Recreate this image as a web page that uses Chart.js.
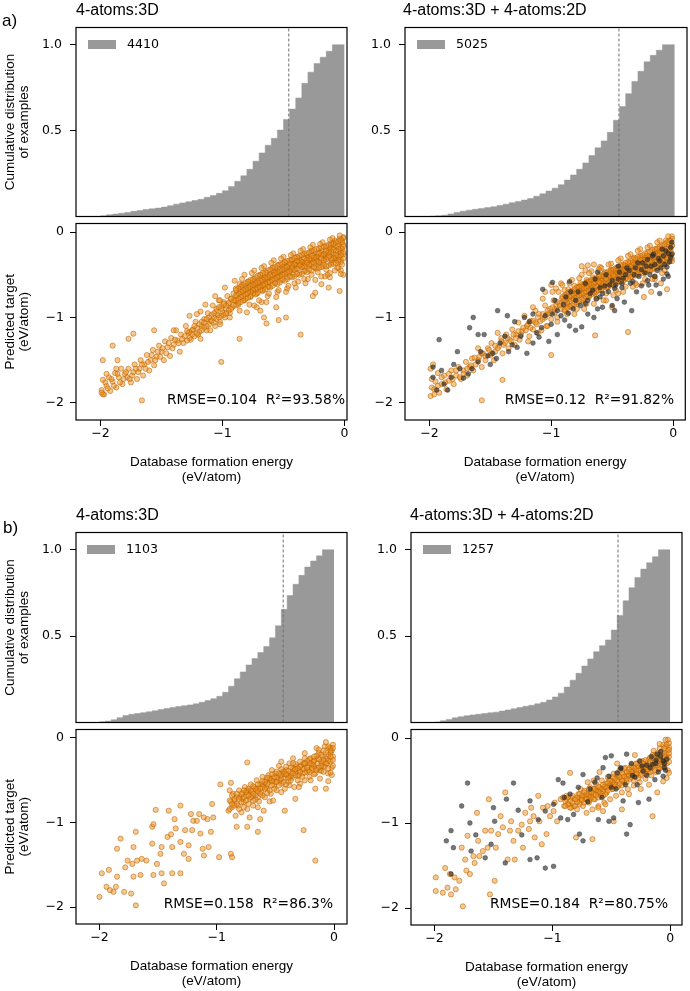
<!DOCTYPE html>
<html>
<head>
<meta charset="utf-8">
<script src="https://cdn.jsdelivr.net/npm/chart.js@4.4.0/dist/chart.umd.min.js"></script>
<style>
  body { margin: 0; background: #fff; width: 690px; height: 991px; position: relative; overflow: hidden; }
  canvas { position: absolute; }
  .t { position: absolute; white-space: pre; color: #000; line-height: 1; }
  .sans { font-family: "Liberation Sans", Arial, sans-serif; }
  .dv { font-family: "DejaVu Sans", sans-serif; }
  .box { position: absolute; background: #999; }
</style>
</head>
<body>
<script>
// ---- data ----
const titles = ['4-atoms:3D', '4-atoms:3D + 4-atoms:2D', '4-atoms:3D', '4-atoms:3D + 4-atoms:2D'];
const counts = [4410, 5025, 1103, 1257];
const rmse = [0.104, 0.12, 0.158, 0.184];
const r2 = [93.58, 91.82, 86.3, 80.75];
const medians = [-0.457, -0.455, -0.434, -0.443];

const histTicks = [0.5, 1.0];
const scatterTicks = [-2, -1, 0];

// left edges of the cumulative histogram bins
const binLeft = [-2.0,-1.95,-1.9,-1.85,-1.8,-1.75,-1.7,-1.65,-1.6,-1.55,-1.5,-1.45,-1.4,-1.35,-1.3,-1.25,-1.2,-1.15,-1.1,-1.05,
  -1.0,-0.95,-0.9,-0.85,-0.8,-0.75,-0.7,-0.65,-0.6,-0.55,-0.5,-0.45,-0.4,-0.35,-0.3,-0.25,-0.2,-0.15,-0.1,-0.05];
const binEnd = 0.0;

const cumA3D = [0.001,0.004,0.01,0.014,0.019,0.024,0.03,0.035,0.041,0.045,0.049,0.055,0.063,0.072,0.079,0.086,0.093,0.1,0.112,0.122,
  0.135,0.15,0.175,0.205,0.237,0.275,0.322,0.37,0.415,0.455,0.503,0.565,0.625,0.69,0.775,0.84,0.89,0.927,0.962,1.0];
const cumA2D = [0,0.002,0.004,0.008,0.015,0.024,0.031,0.037,0.042,0.047,0.052,0.057,0.064,0.072,0.08,0.088,0.096,0.105,0.118,0.132,
  0.148,0.165,0.185,0.212,0.242,0.275,0.312,0.355,0.4,0.44,0.49,0.56,0.64,0.715,0.785,0.845,0.9,0.938,0.968,1.0];
const cumB3D = [0,0.004,0.008,0.016,0.028,0.04,0.048,0.052,0.057,0.062,0.068,0.075,0.081,0.087,0.093,0.097,0.102,0.108,0.117,0.127,
  0.138,0.152,0.175,0.21,0.253,0.293,0.333,0.37,0.405,0.44,0.49,0.56,0.655,0.735,0.8,0.852,0.9,0.935,0.965,1.0];
const cumB2D = [0,0.003,0.01,0.018,0.027,0.034,0.039,0.044,0.048,0.052,0.056,0.06,0.066,0.073,0.08,0.087,0.094,0.1,0.108,0.117,
  0.13,0.148,0.17,0.205,0.245,0.285,0.327,0.368,0.41,0.445,0.478,0.535,0.62,0.705,0.78,0.84,0.888,0.925,0.96,1.0];

// scatter: flat [x, y, x, y, ...] (database energy, predicted)
const predA3D = [
  -0.01,-0.06,-0.02,-0.1,-0.01,-0.15,-0.02,-0.2,-0.01,-0.26,-0.03,-0.32,-0.02,-0.38,-0.04,-0.08,-0.05,-0.14,-0.04,-0.22,
  -0.06,-0.28,-0.05,-0.35,-0.07,-0.18,-0.08,-0.1,-0.09,-0.25,-0.08,-0.31,-0.1,-0.2,-0.11,-0.15,-0.12,-0.28,-0.11,-0.36,
  -0.13,-0.22,-0.14,-0.3,-0.15,-0.18,-0.16,-0.25,-0.17,-0.34,-0.18,-0.4,-0.19,-0.22,-0.2,-0.29,-0.21,-0.36,-0.22,-0.25,
  -0.23,-0.32,-0.24,-0.42,-0.25,-0.28,-0.26,-0.35,-0.27,-0.22,-0.28,-0.31,-0.29,-0.4,-0.3,-0.34,-0.31,-0.27,-0.32,-0.45,
  -0.33,-0.37,-0.34,-0.3,-0.35,-0.41,-0.36,-0.34,-0.37,-0.48,-0.38,-0.38,-0.39,-0.3,-0.4,-0.43,-0.41,-0.36,-0.42,-0.5,
  -0.43,-0.4,-0.44,-0.33,-0.45,-0.46,-0.46,-0.39,-0.47,-0.53,-0.48,-0.44,-0.49,-0.36,-0.5,-0.48,-0.51,-0.41,-0.52,-0.56,
  -0.53,-0.46,-0.54,-0.38,-0.55,-0.52,-0.56,-0.45,-0.57,-0.6,-0.58,-0.5,-0.59,-0.42,-0.6,-0.56,-0.61,-0.49,-0.62,-0.64,
  -0.63,-0.55,-0.64,-0.47,-0.65,-0.6,-0.66,-0.53,-0.67,-0.68,-0.68,-0.58,-0.69,-0.5,-0.7,-0.64,-0.71,-0.57,-0.72,-0.72,
  -0.73,-0.62,-0.74,-0.55,-0.75,-0.68,-0.76,-0.6,-0.77,-0.76,-0.78,-0.66,-0.79,-0.58,-0.8,-0.72,-0.81,-0.64,-0.82,-0.8,
  -0.83,-0.7,-0.84,-0.62,-0.85,-0.76,-0.86,-0.68,-0.87,-0.85,-0.88,-0.74,-0.89,-0.66,-0.9,-0.8,
  -0.02,-0.12,-0.03,-0.24,-0.06,-0.16,-0.07,-0.3,-0.09,-0.13,-0.1,-0.33,-0.12,-0.2,-0.14,-0.25,-0.16,-0.3,-0.18,-0.27,
  -0.2,-0.24,-0.22,-0.35,-0.24,-0.3,-0.26,-0.27,-0.28,-0.38,-0.3,-0.3,-0.32,-0.34,-0.34,-0.4,-0.36,-0.38,-0.38,-0.35,
  -0.4,-0.38,-0.42,-0.44,-0.44,-0.41,-0.46,-0.48,-0.48,-0.4,-0.5,-0.44,-0.52,-0.5,-0.54,-0.47,-0.56,-0.54,-0.58,-0.46,
  -0.6,-0.52,-0.62,-0.58,-0.64,-0.54,-0.66,-0.62,-0.68,-0.54,-0.7,-0.6,-0.72,-0.66,-0.74,-0.62,-0.76,-0.7,-0.78,-0.62,-0.8,-0.68,
  -0.03,-0.45,-0.01,-0.5,-0.05,-0.42,-0.12,-0.48,-0.15,-0.44,-0.19,-0.52,-0.27,-0.5,-0.33,-0.55,-0.41,-0.6,-0.47,-0.66,
  -0.55,-0.7,-0.63,-0.75,-0.68,-0.82,-0.74,-0.86,
  -0.91,-0.72,-0.92,-0.88,-0.93,-0.78,-0.94,-0.95,-0.95,-0.84,-0.96,-0.75,-0.97,-0.9,-0.98,-1.0,-0.99,-0.82,-1.0,-0.94,
  -1.01,-0.87,-1.02,-1.05,-1.03,-0.8,-1.04,-0.97,-1.05,-0.9,-1.06,-1.1,-1.07,-1.0,-1.08,-0.86,-1.1,-1.04,-1.12,-0.95,
  -1.13,-1.15,-1.15,-1.02,-1.17,-1.1,-1.18,-0.93,-1.2,-1.2,-1.22,-1.05,-1.24,-1.14,-1.26,-1.26,-1.27,-0.98,-1.28,-1.18,-1.3,-1.1,
  -1.32,-1.3,-1.34,-1.2,-1.35,-1.4,-1.37,-1.27,-1.38,-1.15,-1.4,-1.32,-1.42,-1.24,-1.43,-1.45,-1.45,-1.35,-1.47,-1.28,
  -1.48,-1.5,-1.5,-1.4,-1.52,-1.33,-1.54,-1.46,-1.56,-1.56,-1.57,-1.38,-1.59,-1.5,-1.6,-1.62,-1.62,-1.44,-1.64,-1.55,
  -1.65,-1.68,-1.67,-1.5,-1.68,-1.6,-1.7,-1.72,-1.72,-1.55,-1.73,-1.64,-1.75,-1.76,-1.77,-1.6,-1.78,-1.7,-1.8,-1.66,
  -1.82,-1.78,-1.83,-1.6,-1.85,-1.7,-1.87,-1.82,-1.88,-1.65,-1.9,-1.75,-1.92,-1.86,-1.93,-1.7,-1.95,-1.8,-1.97,-1.9,
  -1.98,-1.73,-1.99,-1.85,
  -0.36,-1.2,-0.26,-0.75,-0.04,-0.69,-1.01,-1.52,-1.66,-1.97,-0.86,-1.25,-1.77,-1.25,-1.9,-1.33,-1.98,-1.5,-1.98,-1.9,
  -0.48,-1.0,-0.54,-1.03,-0.64,-1.07,-0.66,-1.0,-0.56,-0.88,-0.69,-0.92,-0.03,-0.49,-0.12,-0.53,-0.19,-0.61,-0.24,-0.71,
  -0.13,-0.65,-0.86,-0.61,-1.02,-0.8,-1.21,-0.96,-1.4,-1.15,-1.56,-1.15,-1.73,-1.19,-1.86,-1.5
];
// the dense core of the same cloud
const predA3Dcore = [
  -0.01,-0.07,-0.01,-0.17,-0.01,-0.24,-0.01,-0.31,-0.03,-0.09,-0.03,-0.19,-0.03,-0.27,-0.03,-0.35,
  -0.05,-0.11,-0.05,-0.2,-0.05,-0.29,-0.05,-0.33,-0.07,-0.12,-0.07,-0.22,-0.07,-0.27,-0.07,-0.36,
  -0.09,-0.14,-0.09,-0.21,-0.09,-0.3,-0.09,-0.37,-0.11,-0.13,-0.11,-0.23,-0.11,-0.31,-0.11,-0.38,
  -0.13,-0.15,-0.13,-0.24,-0.13,-0.29,-0.13,-0.39,-0.15,-0.16,-0.15,-0.22,-0.15,-0.32,-0.15,-0.4,
  -0.17,-0.17,-0.17,-0.26,-0.17,-0.33,-0.17,-0.38,-0.19,-0.18,-0.19,-0.27,-0.19,-0.31,-0.19,-0.41,
  -0.21,-0.19,-0.21,-0.25,-0.21,-0.35,-0.21,-0.42,-0.23,-0.2,-0.23,-0.29,-0.23,-0.34,-0.23,-0.43,
  -0.25,-0.21,-0.25,-0.3,-0.25,-0.36,-0.25,-0.41,-0.27,-0.22,-0.27,-0.28,-0.27,-0.37,-0.27,-0.45,
  -0.29,-0.24,-0.29,-0.32,-0.29,-0.38,-0.29,-0.44,-0.31,-0.25,-0.31,-0.33,-0.31,-0.36,-0.31,-0.47,
  -0.33,-0.26,-0.33,-0.31,-0.33,-0.4,-0.33,-0.46,-0.35,-0.27,-0.35,-0.35,-0.35,-0.41,-0.35,-0.49,
  -0.37,-0.28,-0.37,-0.36,-0.37,-0.39,-0.37,-0.5,-0.39,-0.29,-0.39,-0.34,-0.39,-0.43,-0.39,-0.49,
  -0.41,-0.3,-0.41,-0.38,-0.41,-0.44,-0.41,-0.52,-0.43,-0.32,-0.43,-0.39,-0.43,-0.42,-0.43,-0.53,
  -0.45,-0.33,-0.45,-0.37,-0.45,-0.46,-0.45,-0.52,-0.47,-0.34,-0.47,-0.41,-0.47,-0.47,-0.47,-0.55,
  -0.49,-0.35,-0.49,-0.42,-0.49,-0.49,-0.49,-0.57,-0.51,-0.37,-0.51,-0.44,-0.51,-0.5,-0.51,-0.56,
  -0.53,-0.38,-0.53,-0.45,-0.53,-0.52,-0.53,-0.59,-0.55,-0.39,-0.55,-0.47,-0.55,-0.53,-0.55,-0.61,
  -0.57,-0.41,-0.57,-0.48,-0.57,-0.55,-0.57,-0.6,-0.59,-0.42,-0.59,-0.5,-0.59,-0.56,-0.59,-0.63,
  -0.61,-0.44,-0.61,-0.51,-0.61,-0.58,-0.61,-0.65,-0.63,-0.45,-0.63,-0.53,-0.63,-0.59,-0.63,-0.64,
  -0.65,-0.47,-0.65,-0.54,-0.65,-0.61,-0.65,-0.67,-0.67,-0.48,-0.67,-0.56,-0.67,-0.62,-0.67,-0.69,
  -0.69,-0.5,-0.69,-0.57,-0.69,-0.64,-0.69,-0.68,-0.71,-0.51,-0.71,-0.59,-0.71,-0.65,-0.71,-0.71,
  -0.73,-0.53,-0.73,-0.6,-0.73,-0.67,-0.73,-0.73,-0.75,-0.55,-0.75,-0.62,-0.75,-0.68,-0.75,-0.72,
  -0.77,-0.56,-0.77,-0.63,-0.77,-0.7,-0.77,-0.75,-0.79,-0.58,-0.79,-0.65,-0.79,-0.71,-0.79,-0.77,
  -0.81,-0.6,-0.81,-0.67,-0.81,-0.73,-0.81,-0.78,-0.83,-0.62,-0.83,-0.68,-0.83,-0.75,-0.83,-0.8,
  -0.85,-0.64,-0.85,-0.7,-0.85,-0.76,-0.85,-0.82,-0.87,-0.66,-0.87,-0.72,-0.87,-0.78,-0.87,-0.83,
  -0.89,-0.68,-0.89,-0.74,-0.89,-0.8,-0.89,-0.86,
  -0.91,-0.8,-0.91,-0.86,-0.93,-0.78,-0.93,-0.9,-0.95,-0.83,-0.95,-0.92,-0.97,-0.86,-0.97,-0.95,-0.99,-0.84,-0.99,-0.97,
  -1.01,-0.9,-1.01,-0.98,-1.03,-0.88,-1.03,-1.0,-1.05,-0.93,-1.05,-1.02,-1.07,-0.95,-1.07,-1.06,-1.09,-0.97,-1.09,-1.04,
  -1.11,-1.0,-1.11,-1.08,-1.13,-1.02,-1.13,-1.1,-1.15,-1.06,-1.15,-1.12,-1.17,-1.05,-1.17,-1.15,-1.19,-1.08,-1.19,-1.17,
  -1.21,-1.12,-1.21,-1.19,-1.23,-1.1,-1.23,-1.22,-1.25,-1.15,-1.25,-1.2,-1.27,-1.17,-1.27,-1.24,-1.29,-1.16,-1.29,-1.27,
  -1.31,-1.22,-1.33,-1.25,-1.36,-1.3,-1.39,-1.26,-1.41,-1.36,-1.44,-1.3,-1.46,-1.42,-1.49,-1.36,-1.51,-1.46,-1.53,-1.4,
  -1.55,-1.5,-1.58,-1.44,-1.61,-1.52,-1.63,-1.6,-1.66,-1.55,-1.69,-1.64,-1.71,-1.6,-1.74,-1.68,-1.76,-1.72,-1.79,-1.64,
  -1.81,-1.72,-1.84,-1.76,-1.86,-1.66,-1.89,-1.8,-1.91,-1.72,-1.94,-1.83,-1.96,-1.76,-1.99,-1.88,-1.95,-1.66,-1.87,-1.6
];
// the looser edge of the same cloud
const predA3Dhalo = [
  -0.04,-0.04,-0.06,-0.42,-0.1,-0.07,-0.14,-0.5,-0.18,-0.12,-0.22,-0.47,-0.26,-0.15,-0.3,-0.55,-0.34,-0.2,-0.38,-0.58,
  -0.42,-0.25,-0.46,-0.63,-0.5,-0.29,-0.54,-0.68,-0.58,-0.33,-0.62,-0.72,-0.66,-0.4,-0.7,-0.8,-0.74,-0.45,-0.78,-0.85,
  -0.82,-0.5,-0.86,-0.92,-0.9,-0.57,-0.94,-1.0,-0.98,-0.65,-1.02,-1.08,-1.06,-0.75,-1.1,-1.15,-1.14,-0.85,-1.18,-1.25,
  -0.08,-0.45,-0.16,-0.52,-0.24,-0.56,-0.32,-0.6,-0.4,-0.65,-0.48,-0.7,-0.56,-0.76,-0.64,-0.82,-0.72,-0.88,-0.8,-0.94,
  -0.12,-0.09,-0.2,-0.14,-0.28,-0.18,-0.36,-0.22,-0.44,-0.27,-0.52,-0.31,-0.6,-0.36,-0.68,-0.42,-0.76,-0.48,-0.84,-0.55
];

const predA3Dmix = [
  -0.01,-0.05,-0.02,-0.1,-0.01,-0.16,-0.03,-0.22,-0.02,-0.28,-0.01,-0.34,-0.04,-0.12,-0.05,-0.19,-0.06,-0.26,-0.05,-0.32,
  -0.07,-0.15,-0.08,-0.22,-0.09,-0.3,-0.1,-0.37,-0.11,-0.19,-0.12,-0.26,-0.13,-0.33,-0.14,-0.4,-0.15,-0.23,-0.16,-0.3,
  -0.17,-0.37,-0.18,-0.27,-0.19,-0.44,-0.2,-0.33,-0.21,-0.4,-0.22,-0.28,-0.23,-0.36,-0.24,-0.46,-0.25,-0.32,-0.26,-0.4,
  -0.27,-0.3,-0.28,-0.37,-0.29,-0.48,-0.3,-0.41,-0.31,-0.34,-0.32,-0.45,-0.33,-0.38,-0.34,-0.52,-0.35,-0.43,-0.36,-0.36,
  -0.37,-0.48,-0.38,-0.4,-0.39,-0.55,-0.4,-0.46,-0.41,-0.39,-0.42,-0.52,-0.43,-0.44,-0.44,-0.58,-0.45,-0.49,-0.46,-0.42,
  -0.47,-0.55,-0.48,-0.47,-0.49,-0.62,-0.5,-0.52,-0.51,-0.44,-0.52,-0.58,-0.53,-0.5,-0.54,-0.65,-0.55,-0.55,-0.56,-0.47,
  -0.57,-0.6,-0.58,-0.53,-0.59,-0.68,-0.6,-0.58,-0.61,-0.5,-0.62,-0.63,-0.63,-0.56,-0.64,-0.72,-0.65,-0.61,-0.66,-0.53,
  -0.67,-0.67,-0.68,-0.59,-0.69,-0.76,-0.7,-0.64,-0.71,-0.56,-0.72,-0.7,-0.73,-0.62,-0.74,-0.8,-0.75,-0.67,-0.76,-0.6,
  -0.77,-0.74,-0.78,-0.66,-0.79,-0.84,-0.8,-0.71,-0.81,-0.63,-0.82,-0.78,-0.83,-0.7,-0.84,-0.88,-0.85,-0.76,-0.86,-0.67,
  -0.87,-0.83,-0.88,-0.74,-0.89,-0.92,-0.9,-0.8,
  -0.02,-0.2,-0.04,-0.3,-0.06,-0.1,-0.08,-0.34,-0.1,-0.24,-0.12,-0.36,-0.14,-0.2,-0.16,-0.42,-0.18,-0.33,-0.2,-0.28,
  -0.22,-0.45,-0.24,-0.35,-0.26,-0.3,-0.28,-0.44,-0.3,-0.36,-0.32,-0.3,-0.34,-0.4,-0.36,-0.5,-0.38,-0.46,-0.4,-0.4,
  -0.42,-0.47,-0.44,-0.5,-0.46,-0.56,-0.48,-0.5,-0.5,-0.45,-0.52,-0.55,-0.54,-0.6,-0.56,-0.52,-0.58,-0.62,-0.6,-0.55,
  -0.62,-0.68,-0.64,-0.6,-0.66,-0.7,-0.68,-0.64,-0.7,-0.58,-0.72,-0.75,-0.74,-0.66,-0.76,-0.72,-0.78,-0.64,-0.8,-0.77,
  -0.75,-0.4,-0.7,-0.39,-0.65,-0.38,-0.6,-0.41,-0.72,-0.45,-1.0,-0.62,-0.96,-0.66,-0.92,-0.6,-0.89,-0.68,-0.94,-0.7,
  -1.05,-0.7,-0.05,-0.67,-0.24,-0.76,-0.37,-1.17,-0.64,-1.21,-1.0,-1.44,-1.57,-1.97,-1.4,-1.73,-0.1,-0.6,-0.15,-0.55,
  -0.3,-0.62,-0.45,-0.72,-0.55,-0.8,-0.5,-0.88,-0.18,-0.7,
  -0.91,-0.76,-0.92,-0.9,-0.93,-0.84,-0.95,-1.0,-0.96,-0.86,-0.97,-0.94,-0.98,-0.8,-1.0,-1.02,-1.01,-0.9,-1.03,-0.96,
  -1.04,-1.1,-1.05,-0.86,-1.07,-1.02,-1.08,-1.15,-1.1,-0.96,-1.12,-1.08,-1.13,-0.92,-1.15,-1.14,-1.17,-1.04,-1.18,-1.22,
  -1.2,-1.1,-1.22,-0.98,-1.24,-1.16,-1.26,-1.26,-1.27,-1.06,-1.29,-1.2,-1.3,-1.32,
  -1.32,-1.14,-1.34,-1.26,-1.35,-1.36,-1.37,-1.2,-1.38,-1.3,-1.4,-1.42,-1.41,-1.24,-1.43,-1.34,-1.44,-1.18,-1.46,-1.4,
  -1.47,-1.5,-1.49,-1.3,-1.5,-1.44,-1.52,-1.36,-1.54,-1.5,-1.56,-1.42,-1.57,-1.58,-1.59,-1.46,-1.6,-1.36,-1.62,-1.55,
  -1.64,-1.62,-1.65,-1.48,-1.67,-1.58,-1.69,-1.68,-1.7,-1.52,-1.72,-1.62,-1.74,-1.72,-1.76,-1.58,-1.78,-1.68,-1.8,-1.78,
  -1.82,-1.62,-1.84,-1.74,-1.86,-1.84,-1.88,-1.68,-1.9,-1.78,-1.92,-1.88,-1.93,-1.65,-1.95,-1.75,-1.96,-1.9,-1.97,-1.55,
  -1.98,-1.82,-1.99,-1.92,-1.99,-1.6
];
const predA3DmixCore = [
  -0.01,-0.08,-0.01,-0.16,-0.01,-0.25,-0.01,-0.31,-0.03,-0.1,-0.03,-0.19,-0.03,-0.27,-0.03,-0.34,
  -0.05,-0.12,-0.05,-0.2,-0.05,-0.3,-0.05,-0.36,-0.07,-0.14,-0.07,-0.23,-0.07,-0.28,-0.07,-0.38,
  -0.09,-0.16,-0.09,-0.24,-0.09,-0.32,-0.09,-0.37,-0.11,-0.17,-0.11,-0.26,-0.11,-0.33,-0.11,-0.4,
  -0.13,-0.19,-0.13,-0.27,-0.13,-0.31,-0.13,-0.42,-0.15,-0.2,-0.15,-0.25,-0.15,-0.35,-0.15,-0.41,
  -0.17,-0.21,-0.17,-0.29,-0.17,-0.36,-0.17,-0.44,-0.19,-0.23,-0.19,-0.3,-0.19,-0.34,-0.19,-0.45,
  -0.21,-0.24,-0.21,-0.28,-0.21,-0.38,-0.21,-0.44,-0.23,-0.25,-0.23,-0.33,-0.23,-0.39,-0.23,-0.47,
  -0.25,-0.27,-0.25,-0.34,-0.25,-0.37,-0.25,-0.48,-0.27,-0.28,-0.27,-0.32,-0.27,-0.41,-0.27,-0.47,
  -0.29,-0.29,-0.29,-0.37,-0.29,-0.42,-0.29,-0.5,-0.31,-0.31,-0.31,-0.38,-0.31,-0.4,-0.31,-0.51,
  -0.33,-0.32,-0.33,-0.36,-0.33,-0.44,-0.33,-0.5,-0.35,-0.34,-0.35,-0.41,-0.35,-0.45,-0.35,-0.53,
  -0.37,-0.35,-0.37,-0.42,-0.37,-0.43,-0.37,-0.55,-0.39,-0.36,-0.39,-0.4,-0.39,-0.48,-0.39,-0.54,
  -0.41,-0.38,-0.41,-0.45,-0.41,-0.49,-0.41,-0.57,-0.43,-0.39,-0.43,-0.46,-0.43,-0.47,-0.43,-0.58,
  -0.45,-0.41,-0.45,-0.44,-0.45,-0.52,-0.45,-0.57,-0.47,-0.42,-0.47,-0.49,-0.47,-0.53,-0.47,-0.6,
  -0.49,-0.44,-0.49,-0.5,-0.49,-0.51,-0.49,-0.62,-0.51,-0.45,-0.51,-0.48,-0.51,-0.56,-0.51,-0.61,
  -0.53,-0.46,-0.53,-0.53,-0.53,-0.57,-0.53,-0.64,-0.55,-0.48,-0.55,-0.54,-0.55,-0.55,-0.55,-0.65,
  -0.57,-0.49,-0.57,-0.52,-0.57,-0.6,-0.57,-0.64,-0.59,-0.51,-0.59,-0.57,-0.59,-0.61,-0.59,-0.67,
  -0.61,-0.52,-0.61,-0.58,-0.61,-0.59,-0.61,-0.68,-0.63,-0.54,-0.63,-0.56,-0.63,-0.63,-0.63,-0.7,
  -0.65,-0.55,-0.65,-0.6,-0.65,-0.64,-0.65,-0.71,-0.67,-0.56,-0.67,-0.62,-0.67,-0.66,-0.67,-0.73,
  -0.69,-0.58,-0.69,-0.61,-0.69,-0.68,-0.69,-0.74,-0.71,-0.59,-0.71,-0.65,-0.71,-0.69,-0.71,-0.76,
  -0.73,-0.61,-0.73,-0.66,-0.73,-0.71,-0.73,-0.78,-0.75,-0.62,-0.75,-0.64,-0.75,-0.72,-0.75,-0.79,
  -0.77,-0.64,-0.77,-0.69,-0.77,-0.74,-0.77,-0.81,-0.79,-0.65,-0.79,-0.7,-0.79,-0.75,-0.79,-0.82,
  -0.81,-0.67,-0.81,-0.72,-0.81,-0.77,-0.81,-0.84,-0.83,-0.69,-0.83,-0.74,-0.83,-0.79,-0.83,-0.86,
  -0.85,-0.7,-0.85,-0.76,-0.85,-0.81,-0.85,-0.87,-0.87,-0.72,-0.87,-0.78,-0.87,-0.83,-0.87,-0.89,
  -0.89,-0.74,-0.89,-0.8,-0.89,-0.85,-0.89,-0.91,
  -0.91,-0.78,-0.93,-0.86,-0.95,-0.82,-0.97,-0.9,-0.99,-0.88,-1.01,-0.95,-1.03,-0.92,-1.05,-1.0,-1.07,-0.96,-1.09,-1.04,
  -1.11,-1.0,-1.13,-1.06,-1.15,-1.04,-1.17,-1.12,-1.19,-1.08,-1.21,-1.15,-1.23,-1.12,-1.25,-1.2,-1.27,-1.16,-1.29,-1.24,
  -1.31,-1.2,-1.33,-1.28,-1.36,-1.24,-1.39,-1.32,-1.41,-1.28,-1.44,-1.36,-1.46,-1.33,-1.49,-1.42,-1.51,-1.38,-1.54,-1.45,
  -1.57,-1.42,-1.6,-1.5,-1.63,-1.47,-1.66,-1.56,-1.69,-1.6,-1.72,-1.66,-1.75,-1.7,-1.78,-1.62,-1.81,-1.72,-1.84,-1.66,
  -1.87,-1.76,-1.9,-1.7,-1.93,-1.8,-1.96,-1.84,-1.98,-1.72
];
const predA3DmixHalo = [
  -0.04,-0.05,-0.07,-0.45,-0.11,-0.1,-0.15,-0.52,-0.19,-0.16,-0.23,-0.55,-0.27,-0.2,-0.31,-0.6,-0.35,-0.26,-0.39,-0.64,
  -0.43,-0.31,-0.47,-0.68,-0.51,-0.37,-0.55,-0.72,-0.59,-0.42,-0.63,-0.78,-0.67,-0.46,-0.71,-0.84,-0.75,-0.5,-0.79,-0.9,
  -0.83,-0.56,-0.87,-0.96,-0.91,-0.62,-0.95,-1.05,-0.99,-0.7,-1.03,-1.1,-1.07,-0.78,-1.11,-1.18,-1.15,-0.88,-1.19,-1.28,
  -0.09,-0.48,-0.17,-0.55,-0.25,-0.6,-0.33,-0.64,-0.41,-0.7,-0.49,-0.74,-0.57,-0.8,-0.65,-0.84,-0.73,-0.9,-0.81,-0.96,
  -0.13,-0.12,-0.21,-0.18,-0.29,-0.22,-0.37,-0.28,-0.45,-0.33,-0.53,-0.38,-0.61,-0.44,-0.69,-0.48,-0.77,-0.54,-0.85,-0.6
];

const predA2D = [
  -0.99,-0.59,-1.07,-0.67,-1.44,-0.92,-1.64,-1.0,-1.92,-1.26,-1.67,-1.12,-1.36,-0.98,-1.2,-1.42,-1.28,-1.35,-0.99,-0.96,
  -0.89,-1.03,-0.75,-1.11,-0.8,-1.15,-0.58,-0.88,-0.5,-0.86,-0.34,-0.92,-0.11,-0.72,-0.21,-0.57,-0.05,-0.41,-0.05,-0.49,
  -0.26,-0.63,-0.42,-0.65,-1.97,-1.58,-1.72,-1.71,-1.1,-1.23,-1.48,-1.42,-1.15,-0.96,
  -0.02,-0.18,-0.01,-0.26,-0.03,-0.35,-0.06,-0.22,-0.08,-0.28,-0.1,-0.42,-0.12,-0.31,-0.15,-0.38,-0.17,-0.28,-0.19,-0.5,
  -0.22,-0.4,-0.25,-0.36,-0.28,-0.52,-0.31,-0.42,-0.33,-0.58,-0.36,-0.45,-0.39,-0.5,-0.42,-0.6,-0.45,-0.55,-0.48,-0.66,
  -0.52,-0.62,-0.55,-0.5,-0.58,-0.72,-0.6,-0.65,-0.63,-0.78,-0.66,-0.68,-0.7,-0.8,-0.72,-0.6,-0.76,-0.86,-0.8,-0.8,
  -0.84,-0.7,-0.86,-0.95,-0.9,-0.85,-0.95,-0.92,-1.0,-1.08,-1.05,-0.98,-1.12,-1.18,-1.18,-1.05,-1.25,-1.22,-1.32,-1.32,
  -1.38,-1.22,-1.45,-1.48,-1.52,-1.45,-1.6,-1.52,-1.68,-1.66,-1.75,-1.6,-1.82,-1.7,-1.88,-1.78,-1.94,-1.85,-1.97,-1.7,
  -0.04,-0.52,-0.14,-0.62,-0.3,-0.7,-0.46,-0.78,-0.62,-0.9,-0.7,-0.96,-0.65,-1.0,-0.85,-1.1,-0.95,-1.2,-1.02,-1.28,
  -1.3,-1.05,-1.55,-1.2,-0.85,-0.58,-0.62,-0.47,-0.45,-0.4,
  -0.01,-0.12,-0.02,-0.3,-0.04,-0.25,-0.07,-0.38,-0.09,-0.2,-0.11,-0.34,-0.13,-0.45,-0.16,-0.26,-0.18,-0.4,-0.21,-0.32,
  -0.23,-0.48,-0.26,-0.44,-0.29,-0.36,-0.32,-0.5,-0.35,-0.6,-0.38,-0.42,-0.41,-0.54,-0.44,-0.47,-0.47,-0.62,-0.5,-0.57,
  -0.53,-0.7,-0.56,-0.63,-0.6,-0.76,-0.64,-0.55,-0.68,-0.72,-0.72,-0.84,-0.78,-0.7,-0.82,-0.9,-0.88,-0.76,-0.92,-0.98,
  -0.97,-0.8,-1.08,-1.12,-1.15,-1.3,-1.22,-1.0,-1.35,-1.4,-1.42,-1.3,-1.5,-1.55,-1.58,-1.4,-1.65,-1.6,-1.8,-1.55,
  -1.85,-1.85,-1.9,-1.62,-1.77,-1.4,-1.6,-1.2,-0.48,-0.92,-0.4,-0.82,-0.2,-0.62,-0.15,-0.52,-0.08,-0.55
];

const predB3D = [
  -0.01,-0.08,-0.02,-0.15,-0.01,-0.22,-0.03,-0.28,-0.02,-0.35,-0.04,-0.12,-0.05,-0.2,-0.06,-0.3,-0.07,-0.25,-0.08,-0.1,
  -0.09,-0.33,-0.1,-0.22,-0.11,-0.28,-0.12,-0.38,-0.13,-0.18,-0.14,-0.3,-0.15,-0.25,-0.16,-0.42,-0.17,-0.34,-0.18,-0.28,
  -0.19,-0.38,-0.2,-0.24,-0.21,-0.46,-0.22,-0.33,-0.23,-0.4,-0.24,-0.3,-0.25,-0.5,-0.26,-0.36,-0.27,-0.42,-0.28,-0.32,
  -0.29,-0.54,-0.3,-0.38,-0.31,-0.45,-0.32,-0.34,-0.33,-0.4,-0.34,-0.58,-0.35,-0.36,-0.36,-0.47,-0.37,-0.42,-0.38,-0.3,
  -0.39,-0.52,-0.4,-0.44,-0.41,-0.38,-0.42,-0.6,-0.43,-0.48,-0.44,-0.4,-0.45,-0.54,-0.46,-0.45,-0.47,-0.33,-0.48,-0.5,
  -0.49,-0.62,-0.5,-0.42,-0.51,-0.56,-0.52,-0.47,-0.53,-0.38,-0.54,-0.66,-0.55,-0.52,-0.56,-0.44,-0.57,-0.6,-0.58,-0.5,
  -0.59,-0.7,-0.6,-0.56,-0.61,-0.46,-0.62,-0.64,-0.63,-0.55,-0.64,-0.75,-0.65,-0.6,-0.66,-0.5,-0.67,-0.68,-0.68,-0.58,
  -0.69,-0.8,-0.7,-0.64,-0.71,-0.55,-0.72,-0.72,-0.73,-0.62,-0.74,-0.84,-0.75,-0.68,-0.76,-0.58,-0.77,-0.76,-0.78,-0.65,
  -0.79,-0.88,-0.8,-0.7,-0.81,-0.62,-0.82,-0.8,-0.83,-0.7,-0.84,-0.92,-0.85,-0.74,-0.86,-0.66,-0.87,-0.82,-0.88,-0.75,
  -0.89,-0.62,-0.9,-0.86,
  -0.03,-0.18,-0.06,-0.24,-0.1,-0.3,-0.14,-0.36,-0.18,-0.32,-0.22,-0.38,-0.26,-0.3,-0.3,-0.44,-0.34,-0.38,-0.38,-0.46,
  -0.42,-0.42,-0.46,-0.5,-0.5,-0.52,-0.54,-0.5,-0.58,-0.58,-0.62,-0.54,-0.66,-0.62,-0.7,-0.68,-0.74,-0.62,-0.78,-0.72,
  -0.05,-0.42,-0.02,-0.44,-0.2,-0.5,-0.12,-0.48,-0.45,-0.64,-0.55,-0.75,-0.65,-0.82,-0.38,-0.56,-0.3,-0.58,-0.08,-0.34,
  -0.15,-0.12,-0.25,-0.18,-0.35,-0.24,-0.45,-0.28,-0.03,-0.12,-0.07,-0.05,
  -2.0,-1.88,-1.98,-1.6,-1.94,-1.76,-1.92,-1.56,-1.91,-1.8,-1.88,-1.82,-1.86,-1.76,-1.85,-1.64,-1.85,-1.31,-1.82,-1.19,
  -1.79,-1.82,-1.78,-1.53,-1.76,-1.45,-1.73,-1.84,-1.72,-1.49,-1.71,-1.29,-1.71,-1.64,-1.69,-1.11,-1.69,-1.98,-1.68,-1.45,
  -1.65,-1.62,-1.64,-1.43,-1.6,-1.45,-1.55,-1.25,-1.55,-1.05,-1.54,-1.02,-1.54,-1.62,-1.52,-0.85,-1.51,-1.49,-1.48,-1.37,
  -1.47,-1.29,-1.47,-1.6,-1.45,-1.72,-1.42,-1.17,-1.41,-0.86,-1.39,-1.14,-1.38,-1.29,-1.38,-1.6,-1.36,-0.96,-1.35,-1.07,
  -1.31,-0.8,-1.31,-1.23,-1.31,-1.6,-1.28,-1.37,-1.27,-1.09,-1.24,-1.27,-1.24,-1.43,-1.22,-0.9,-1.21,-1.09,-1.2,-0.98,
  -1.17,-0.98,-1.15,-0.9,-1.14,-1.13,-1.12,-1.31,-1.11,-0.94,-1.11,-1.39,-1.08,-0.96,-1.07,-1.29,-1.05,-1.11,-1.04,-0.78,
  -1.03,-0.94,-0.98,-1.41,-0.97,-0.55,-0.88,-0.53,-0.88,-1.37,-0.87,-1.41,-0.83,-1.05,-0.74,-1.05,-0.72,-0.94,-0.65,-1.11,
  -0.63,-0.96,-0.74,-0.29,-0.6,-0.86,-0.52,-0.74,-0.42,-0.86,-0.33,-0.72,-0.26,-1.09,-0.16,-1.45,-0.16,-0.6,-0.07,-0.6,
  -0.03,-0.41,-0.11,-0.39,-0.05,-0.51
];
const predB3Dcore = [
  -0.01,-0.12,-0.01,-0.26,-0.01,-0.33,-0.03,-0.15,-0.03,-0.22,-0.05,-0.1,-0.05,-0.27,-0.05,-0.36,-0.07,-0.17,-0.07,-0.3,
  -0.09,-0.15,-0.09,-0.26,-0.09,-0.4,-0.11,-0.2,-0.11,-0.33,-0.13,-0.25,-0.13,-0.35,-0.13,-0.14,-0.15,-0.21,-0.15,-0.38,
  -0.17,-0.27,-0.17,-0.22,-0.17,-0.43,-0.19,-0.31,-0.19,-0.36,-0.21,-0.25,-0.21,-0.4,-0.21,-0.3,-0.23,-0.35,-0.23,-0.27,
  -0.25,-0.3,-0.25,-0.41,-0.25,-0.24,-0.27,-0.37,-0.27,-0.46,-0.29,-0.28,-0.29,-0.4,-0.29,-0.34,-0.31,-0.36,-0.31,-0.5,
  -0.33,-0.31,-0.33,-0.44,-0.33,-0.37,-0.35,-0.42,-0.35,-0.3,-0.37,-0.35,-0.37,-0.5,-0.37,-0.45,-0.39,-0.39,-0.39,-0.47,
  -0.41,-0.43,-0.41,-0.34,-0.41,-0.55,-0.43,-0.4,-0.43,-0.52,-0.45,-0.44,-0.45,-0.48,-0.45,-0.37,-0.47,-0.42,-0.47,-0.56,
  -0.49,-0.47,-0.49,-0.52,-0.49,-0.4,-0.51,-0.46,-0.51,-0.6,-0.53,-0.51,-0.53,-0.56,-0.53,-0.43,-0.55,-0.48,-0.55,-0.62,
  -0.57,-0.54,-0.57,-0.47,-0.57,-0.65,-0.59,-0.52,-0.59,-0.6,-0.61,-0.58,-0.61,-0.51,-0.61,-0.68,-0.63,-0.6,-0.63,-0.66,
  -0.65,-0.55,-0.65,-0.7,-0.65,-0.63,-0.67,-0.6,-0.67,-0.73,-0.69,-0.66,-0.69,-0.57,-0.69,-0.74,-0.71,-0.62,-0.71,-0.7,
  -0.73,-0.68,-0.73,-0.6,-0.73,-0.78,-0.75,-0.64,-0.75,-0.74,-0.77,-0.7,-0.77,-0.62,-0.77,-0.82,-0.79,-0.66,-0.79,-0.76,
  -0.81,-0.72,-0.81,-0.84,-0.83,-0.66,-0.83,-0.78,-0.85,-0.72,-0.85,-0.8,-0.87,-0.68,-0.87,-0.78,-0.89,-0.74,-0.89,-0.84
];

const predB3Dmix = [
  -0.01,-0.06,-0.02,-0.14,-0.01,-0.22,-0.03,-0.3,-0.02,-0.38,-0.04,-0.1,-0.05,-0.18,-0.06,-0.27,-0.07,-0.34,-0.08,-0.2,
  -0.09,-0.12,-0.1,-0.3,-0.11,-0.24,-0.12,-0.4,-0.13,-0.2,-0.14,-0.32,-0.15,-0.27,-0.16,-0.44,-0.17,-0.36,-0.18,-0.25,
  -0.19,-0.4,-0.2,-0.3,-0.21,-0.48,-0.22,-0.35,-0.23,-0.27,-0.24,-0.42,-0.25,-0.33,-0.26,-0.52,-0.27,-0.38,-0.28,-0.3,
  -0.29,-0.45,-0.3,-0.36,-0.31,-0.56,-0.32,-0.42,-0.33,-0.32,-0.34,-0.48,-0.35,-0.4,-0.36,-0.6,-0.37,-0.45,-0.38,-0.35,
  -0.39,-0.52,-0.4,-0.42,-0.41,-0.64,-0.42,-0.48,-0.43,-0.38,-0.44,-0.56,-0.45,-0.45,-0.46,-0.68,-0.47,-0.52,-0.48,-0.42,
  -0.49,-0.6,-0.5,-0.5,-0.51,-0.72,-0.52,-0.56,-0.53,-0.46,-0.54,-0.64,-0.55,-0.54,-0.56,-0.76,-0.57,-0.6,-0.58,-0.5,
  -0.59,-0.68,-0.6,-0.58,-0.61,-0.8,-0.62,-0.64,-0.63,-0.54,-0.64,-0.72,-0.65,-0.62,-0.66,-0.84,-0.67,-0.68,-0.68,-0.58,
  -0.69,-0.76,-0.7,-0.66,-0.71,-0.88,-0.72,-0.72,-0.73,-0.62,-0.74,-0.8,-0.75,-0.7,-0.76,-0.6,-0.77,-0.76,-0.78,-0.66,
  -0.79,-0.84,-0.8,-0.72,-0.82,-0.8,-0.84,-0.7,-0.86,-0.78,-0.88,-0.68,-0.9,-0.8,
  -0.03,-0.2,-0.05,-0.3,-0.08,-0.26,-0.1,-0.36,-0.13,-0.28,-0.16,-0.35,-0.2,-0.38,-0.24,-0.34,-0.28,-0.42,-0.32,-0.38,
  -0.36,-0.44,-0.4,-0.5,-0.44,-0.46,-0.48,-0.55,-0.52,-0.5,-0.56,-0.58,-0.6,-0.64,-0.64,-0.6,-0.68,-0.66,-0.72,-0.68,
  -0.76,-0.72,-0.02,-0.02,-0.06,-0.08,-0.14,-0.15,-0.3,-0.2,-0.45,-0.3,-0.6,-0.4,-0.18,-0.55,-0.25,-0.6,-0.35,-0.66,
  -0.55,-0.78,-0.65,-0.5,-0.7,-0.52,
  -1.99,-1.64,-1.99,-1.8,-1.93,-1.82,-1.91,-1.53,-1.89,-1.76,-1.87,-1.6,-1.86,-1.84,-1.83,-1.64,-1.82,-1.78,-1.79,-1.68,
  -1.77,-1.29,-1.76,-1.98,-1.74,-1.43,-1.73,-1.56,-1.72,-1.15,-1.7,-1.6,-1.67,-1.39,-1.66,-1.47,-1.64,-0.88,-1.63,-1.21,
  -1.62,-1.39,-1.59,-1.33,-1.57,-1.09,-1.55,-1.29,-1.54,-0.72,-1.53,-1.84,-1.52,-1.09,-1.49,-1.68,-1.48,-1.29,-1.46,-1.13,
  -1.44,-0.92,-1.42,-1.05,-1.4,-0.64,-1.38,-1.43,-1.36,-1.09,-1.35,-0.98,-1.33,-1.21,-1.32,-1.43,-1.29,-1.09,-1.26,-1.02,
  -1.25,-1.29,-1.23,-0.88,-1.2,-1.07,-1.19,-0.98,-1.18,-0.82,-1.16,-0.92,-1.15,-1.17,-1.12,-0.68,-1.11,-0.98,-1.09,-1.25,
  -1.08,-0.82,-1.05,-1.13,-1.04,-0.8,-1.02,-0.92,-0.99,-0.86,-0.98,-0.76,-0.96,-0.98,-0.93,-0.72,-0.91,-0.7,-0.88,-0.72,
  -0.85,-0.41,-0.84,-0.82,-0.8,-1.17,-0.66,-1.19,-0.61,-0.82,-0.57,-0.86,-0.48,-0.98,-0.41,-0.84,-0.15,-0.92,-0.11,-0.64,
  -0.06,-0.51,-0.03,-0.47,-0.01,-0.41,-0.09,-0.07,-0.04,-0.02,-0.01,-0.11
];
const predB3DmixCore = [
  -0.01,-0.14,-0.01,-0.28,-0.01,-0.18,-0.03,-0.08,-0.03,-0.24,-0.05,-0.12,-0.05,-0.34,-0.05,-0.22,-0.07,-0.16,-0.07,-0.28,
  -0.09,-0.2,-0.09,-0.36,-0.09,-0.25,-0.11,-0.18,-0.11,-0.32,-0.13,-0.24,-0.13,-0.38,-0.13,-0.29,-0.15,-0.2,-0.15,-0.34,
  -0.17,-0.28,-0.17,-0.4,-0.17,-0.23,-0.19,-0.32,-0.19,-0.37,-0.21,-0.26,-0.21,-0.42,-0.21,-0.34,-0.23,-0.3,-0.23,-0.38,
  -0.25,-0.36,-0.25,-0.44,-0.25,-0.28,-0.27,-0.33,-0.27,-0.47,-0.29,-0.38,-0.29,-0.42,-0.29,-0.3,-0.31,-0.35,-0.31,-0.5,
  -0.33,-0.4,-0.33,-0.46,-0.33,-0.34,-0.35,-0.44,-0.35,-0.37,-0.37,-0.4,-0.37,-0.52,-0.37,-0.48,-0.39,-0.45,-0.39,-0.36,
  -0.41,-0.5,-0.41,-0.41,-0.41,-0.56,-0.43,-0.46,-0.43,-0.54,-0.45,-0.5,-0.45,-0.42,-0.45,-0.58,-0.47,-0.55,-0.47,-0.48,
  -0.49,-0.52,-0.49,-0.6,-0.49,-0.46,-0.51,-0.56,-0.51,-0.5,-0.53,-0.53,-0.53,-0.62,-0.53,-0.58,-0.55,-0.57,-0.55,-0.66,
  -0.57,-0.55,-0.57,-0.63,-0.57,-0.68,-0.59,-0.6,-0.59,-0.65,-0.61,-0.57,-0.61,-0.7,-0.61,-0.63,-0.63,-0.62,-0.63,-0.67,
  -0.65,-0.6,-0.65,-0.72,-0.65,-0.66,-0.67,-0.64,-0.67,-0.7,-0.69,-0.6,-0.69,-0.74,-0.69,-0.68,-0.71,-0.66,-0.71,-0.72,
  -0.73,-0.64,-0.73,-0.76,-0.75,-0.68,-0.75,-0.73,-0.77,-0.66,-0.77,-0.78,-0.79,-0.7,-0.79,-0.75,-0.81,-0.72,-0.81,-0.8,
  -0.83,-0.68,-0.83,-0.76,-0.85,-0.74,-0.85,-0.82,-0.87,-0.7,-0.87,-0.78,-0.89,-0.74,-0.89,-0.8
];

const predB2D = [
  -1.72,-0.53,-1.33,-0.53,-1.77,-0.8,-1.39,-0.72,-1.5,-0.82,-1.29,-0.85,-1.19,-0.74,-1.12,-0.96,-1.7,-1.0,-1.49,-0.98,
  -1.65,-1.14,-1.86,-1.09,-1.9,-1.21,-1.84,-1.29,-1.69,-1.33,-1.57,-1.41,-1.52,-1.25,-1.4,-1.47,-1.26,-1.14,-1.19,-1.43,
  -1.13,-1.41,-1.06,-1.53,-0.99,-1.51,-1.86,-1.6,-1.06,-0.86,-0.99,-0.78,-0.95,-0.49,-0.91,-0.53,-0.93,-0.94,-0.87,-0.96,
  -0.77,-1.13,-0.74,-1.21,-0.61,-0.96,-0.48,-0.94,-0.52,-0.98,-0.37,-1.13,-0.34,-1.02,-0.5,-0.58,-0.4,-0.74,-0.27,-0.76,
  -0.18,-0.72,-0.13,-0.49,-0.06,-0.45,-0.06,-0.27,-0.55,-0.23,-0.5,-0.21,-0.37,-0.19,-0.26,-0.27,-0.17,-0.35,-0.23,-0.39,
  -0.28,-0.55,-0.62,-0.47,-0.74,-0.43,-0.85,-0.66,-0.68,-0.6,-0.57,-0.35,-0.45,-0.41,-0.11,-0.19,-0.15,-0.31,
  -0.08,-0.22,-0.05,-0.3,-0.12,-0.26,-0.2,-0.32,-0.32,-0.44,-0.42,-0.36,-0.04,-0.38,
  -0.03,-0.25,-0.05,-0.35,-0.08,-0.16,-0.1,-0.4,-0.12,-0.3,-0.16,-0.22,-0.2,-0.44,-0.24,-0.33,-0.3,-0.46,-0.33,-0.3,
  -0.38,-0.55,-0.42,-0.35,-0.46,-0.6,-0.52,-0.45,-0.58,-0.7,-0.64,-0.52,-0.7,-0.75,-0.78,-0.58,-0.82,-0.9,-0.9,-0.7
];

// ---- layout ----
const panels = [
  { cl: 0,   left: 76,  right: 347, top: 26,  split: 222, bottom: 420, xMax: 0.02, yTitles: true,
    cum: cumA3D, orange: predA3D.concat(predA3Dcore, predA3Dhalo), grey: null },
  { cl: 350, left: 405, right: 687, top: 26,  split: 222, bottom: 420, xMax: 0.1,  yTitles: false,
    cum: cumA2D, orange: predA3Dmix.concat(predA3DmixCore, predA3DmixHalo), grey: predA2D },
  { cl: 0,   left: 76,  right: 347, top: 531, split: 728, bottom: 924, xMax: 0.11, yTitles: true,
    cum: cumB3D, orange: predB3D.concat(predB3Dcore), grey: null },
  { cl: 350, left: 411, right: 682, top: 531, split: 728, bottom: 925, xMax: 0.1,  yTitles: false,
    cum: cumB2D, orange: predB3Dmix.concat(predB3DmixCore), grey: predB2D },
];

const tickFont = { family: 'DejaVu Sans', size: 12.5 };
const labelFont = { family: 'Liberation Sans', size: 13.5, lineHeight: 1.1 };

function pts(flat) {
  const out = [];
  for (let i = 0; i < flat.length; i += 2) out.push({ x: flat[i], y: flat[i + 1] });
  return out;
}
function steps(cum) {
  const out = binLeft.map((x, i) => ({ x: x, y: cum[i] }));
  out.push({ x: binEnd, y: cum[cum.length - 1] });
  return out;
}
function minus(v) { return String(v).replace('-', '\u2212'); }

function addCanvas(left, top, w, h) {
  const c = document.createElement('canvas');
  c.width = w; c.height = h;
  c.style.left = left + 'px'; c.style.top = top + 'px';
  c.style.width = w + 'px'; c.style.height = h + 'px';
  document.body.appendChild(c);
  return c;
}

const framePlugin = {
  id: 'frame',
  afterDatasetsDraw(chart) {
    const a = chart.chartArea, ctx = chart.ctx;
    ctx.save();
    ctx.strokeStyle = '#000';
    ctx.lineWidth = 1.2;
    ctx.strokeRect(a.left, a.top, a.right - a.left, a.bottom - a.top);
    ctx.restore();
  }
};

const gridOpts = { display: true, drawOnChartArea: false, drawTicks: true, tickLength: 6, tickWidth: 1, color: '#000' };

Chart.defaults.color = '#000';

panels.forEach((p, k) => {
  const pr = p.cl === 0 ? 12 : 690 - p.right;
  const w = p.right + pr - p.cl;

  // cumulative histogram
  const hTop = p.top - 14;
  const hc = addCanvas(p.cl, hTop, w, p.split + 10 - hTop);
  new Chart(hc, {
    type: 'line',
    data: {
      datasets: [
        { data: [{ x: medians[k], y: 0 }, { x: medians[k], y: 1.1 }], borderColor: '#707070', borderWidth: 1,
          borderDash: [3, 2], pointRadius: 0, fill: false },
        { data: steps(p.cum), stepped: 'after', fill: 'origin', backgroundColor: '#999999',
          borderColor: '#999999', borderWidth: 0.5, pointRadius: 0 }
      ]
    },
    options: {
      responsive: false, animation: false, devicePixelRatio: 1,
      layout: { padding: { left: 0, top: 14, right: pr, bottom: 10 } },
      plugins: { legend: { display: false }, tooltip: { enabled: false } },
      scales: {
        x: { type: 'linear', display: false, min: -2.2, max: p.xMax },
        y: {
          type: 'linear', min: 0, max: 1.1,
          afterFit: s => { s.width = p.left - p.cl; },
          afterBuildTicks: s => { s.ticks = histTicks.map(v => ({ value: v })); },
          ticks: { font: tickFont, padding: 8, callback: v => v.toFixed(1) },
          grid: gridOpts, border: { display: false },
          title: { display: p.yTitles, text: ['Cumulative distribution', 'of examples'], font: labelFont,
                   padding: { top: 2.5, bottom: 0 } }
        }
      }
    },
    plugins: [framePlugin]
  });

  // parity scatter
  const sTop = p.split - 12;
  const sc = addCanvas(p.cl, sTop, w, p.bottom + 66 - sTop);
  const ds = [];
  if (p.grey) ds.push({ data: pts(p.grey), backgroundColor: 'rgba(35,35,35,0.62)', borderColor: 'rgba(35,35,35,0.62)',
                        borderWidth: 0.6, pointRadius: 2.4 });
  ds.push({ data: pts(p.orange), backgroundColor: 'rgba(240,145,30,0.5)', borderColor: 'rgba(185,95,0,0.75)',
            borderWidth: 0.7, pointRadius: 2.6 });
  new Chart(sc, {
    type: 'scatter',
    data: { datasets: ds },
    options: {
      responsive: false, animation: false, devicePixelRatio: 1,
      layout: { padding: { left: 0, top: 12, right: pr, bottom: 0 } },
      plugins: { legend: { display: false }, tooltip: { enabled: false } },
      scales: {
        x: {
          type: 'linear', min: -2.2, max: p.xMax,
          afterFit: s => { s.height = 66; },
          afterBuildTicks: s => { s.ticks = scatterTicks.map(v => ({ value: v })); },
          ticks: { font: tickFont, padding: 0, maxRotation: 0, autoSkip: false, callback: minus },
          grid: gridOpts, border: { display: false },
          title: { display: true, text: ['Database formation energy', '(eV/atom)'], font: labelFont,
                   padding: { top: 0, bottom: 1.75 } }
        },
        y: {
          type: 'linear', min: -2.2, max: 0.1,
          afterFit: s => { s.width = p.left - p.cl; },
          afterBuildTicks: s => { s.ticks = scatterTicks.map(v => ({ value: v })); },
          ticks: { font: tickFont, padding: 6, callback: minus },
          grid: gridOpts, border: { display: false },
          title: { display: p.yTitles, text: ['Predicted target', '(eV/atom)'], font: labelFont,
                   padding: { top: 2.5, bottom: 0 } }
        }
      }
    },
    plugins: [framePlugin]
  });
});

// ---- text overlays ----
function addText(txt, x, cy, size, cls, alignRight) {
  const d = document.createElement('div');
  d.className = 't ' + cls;
  d.textContent = txt;
  d.style.fontSize = size + 'px';
  d.style.top = (cy - size / 2) + 'px';
  if (alignRight) d.style.right = (690 - x) + 'px'; else d.style.left = x + 'px';
  document.body.appendChild(d);
}
function addBox(x, y, w, h) {
  const b = document.createElement('div');
  b.className = 'box';
  b.style.left = x + 'px'; b.style.top = y + 'px'; b.style.width = w + 'px'; b.style.height = h + 'px';
  document.body.appendChild(b);
}

addText('a)', 2, 20, 17, 'sans');
addText('b)', 3, 527, 17, 'sans');

const titlePos = [[76, 10], [403, 10], [76, 515], [410, 515]];
const legendPos = [[88, 44], [417, 44], [87, 549], [423, 549]];
const notePos = [[345, 400], [674, 400], [333, 904], [668, 904]];

titles.forEach((t, k) => addText(t, titlePos[k][0], titlePos[k][1], 16, 'sans'));
counts.forEach((c, k) => {
  addBox(legendPos[k][0], legendPos[k][1] - 4.5, 28, 9);
  addText(String(c), legendPos[k][0] + 39, legendPos[k][1], 12.6, 'dv');
});
rmse.forEach((r, k) => addText('RMSE=' + r + '  R\u00b2=' + r2[k] + '%', notePos[k][0], notePos[k][1], 13.8, 'dv', true));
</script>
</body>
</html>
